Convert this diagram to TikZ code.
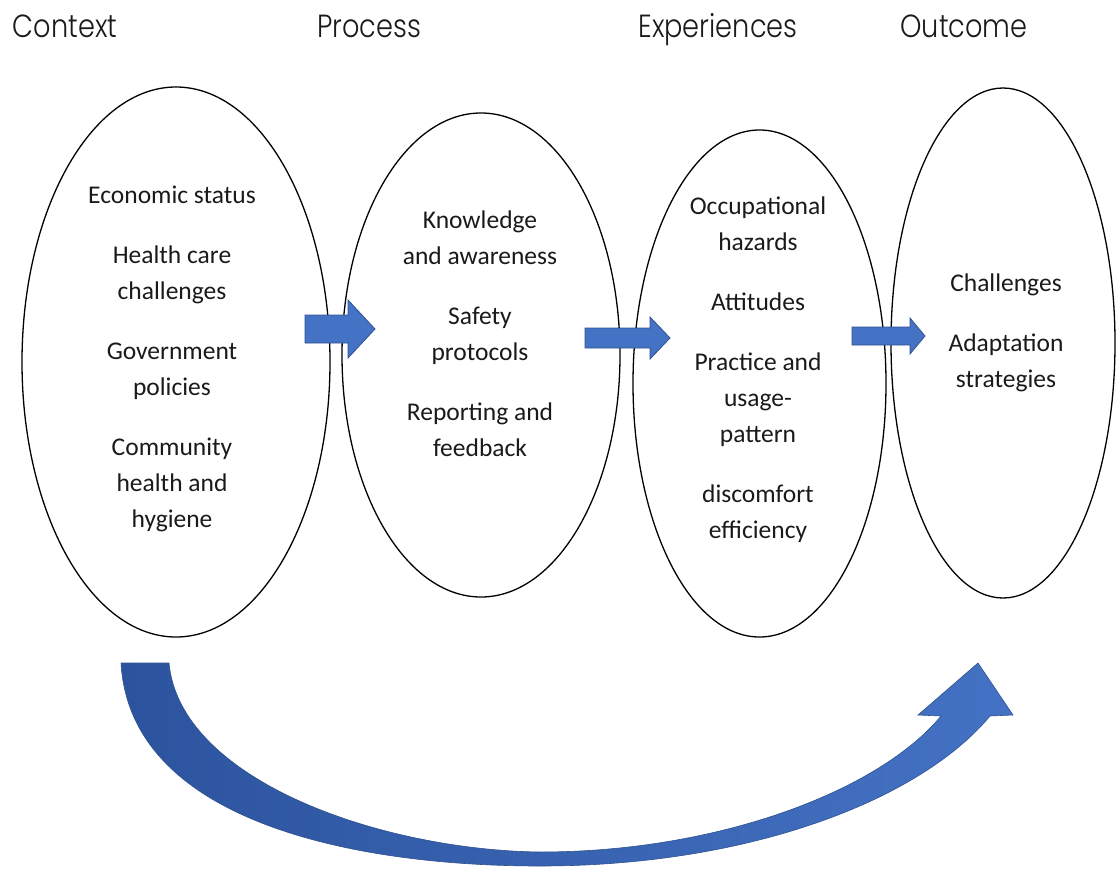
\documentclass[tikz,border=0pt]{standalone}
\usepackage{fontspec}
\setmainfont{Carlito}
\newfontfamily\titlefont{Poppins Light}
\usetikzlibrary{shapes.geometric}
\definecolor{arrowblue}{HTML}{4472C4}
\definecolor{arrowedge}{HTML}{2F528F}
\definecolor{deepblue}{HTML}{2C539E}
\definecolor{txt}{HTML}{1A1A1A}
\newcommand{\ttl}[1]{\scalebox{0.85}[1]{#1}}
\begin{document}
\begin{tikzpicture}[x=1pt,y=-1pt,
  oval/.style={ellipse, draw=black, line width=1.3pt, inner sep=0pt},
  body/.style={align=center, text=txt, font=\fontsize{25.5}{36}\selectfont, inner sep=0pt},
  title/.style={text=txt, inner sep=0pt, anchor=base, font=\titlefont\fontsize{32}{38}\selectfont},
  blockarrow/.style={fill=arrowblue, draw=arrowedge, line width=0.8pt, line join=miter}
]
\useasboundingbox (0,0) rectangle (1116,868);

% titles
\node[title] (tctx) at (65,37) {\ttl{Context}};
\node[title] (tprc) at (369,37) {\ttl{Process}};
\node[title] (texp) at (718,37) {\ttl{Experiences}};
\node[title] (tout) at (964,37) {\ttl{Outcome}};

% ellipses
\node[oval, minimum width=308pt, minimum height=550pt] (ctx) at (176,362) {};
\node[oval, minimum width=278pt, minimum height=484pt] (prc) at (481,355) {};
\node[oval, minimum width=253pt, minimum height=507pt] (exp) at (759.5,383.5) {};
\node[oval, minimum width=224pt, minimum height=510pt] (out) at (1003,343) {};

% texts
\node[body] (ctxt) at (172,358.5) {Economic status\\[24pt]Health care\\challenges\\[24pt]Government\\policies\\[24pt]Community\\health and\\hygiene};
\node[body] (prct) at (480,334) {Knowledge\\and awareness\\[24pt]Safety\\protocols\\[24pt]Reporting and\\feedback};
\node[body] (expt) at (758,370) {Occupational\\hazards\\[24pt]Attitudes\\[24pt]Practice and\\usage-\\pattern\\[24pt]discomfort\\efficiency};
\node[body] (outt) at (1006,333) {Challenges\\[24pt]Adaptation\\strategies};

% block arrows
\draw[blockarrow] (305,315) -- (348,315) -- (348,300) -- (375,329) -- (348,358) -- (348,343) -- (305,343) -- cycle;
\draw[blockarrow] (585,328) -- (650,328) -- (650,317) -- (670,338) -- (650,359) -- (650,348) -- (585,348) -- cycle;
\draw[blockarrow] (852,327) -- (910,327) -- (910,318) -- (925,336) -- (910,354) -- (910,345) -- (852,345) -- cycle;

% curved arrow
\shadedraw[left color=deepblue, right color=arrowblue, draw=arrowedge, line width=0.6pt, line join=miter]
  (121,663) -- (169,663) .. controls (180,780) and (380,850) .. (540,852)
  .. controls (720,852) and (880,790) .. (941,716) -- (918,715) -- (978,663)
  -- (1013,715) -- (990,716) .. controls (920,800) and (750,866) .. (540,866)
  .. controls (350,866) and (130,820) .. (121,663) -- cycle;
\end{tikzpicture}
\end{document}
